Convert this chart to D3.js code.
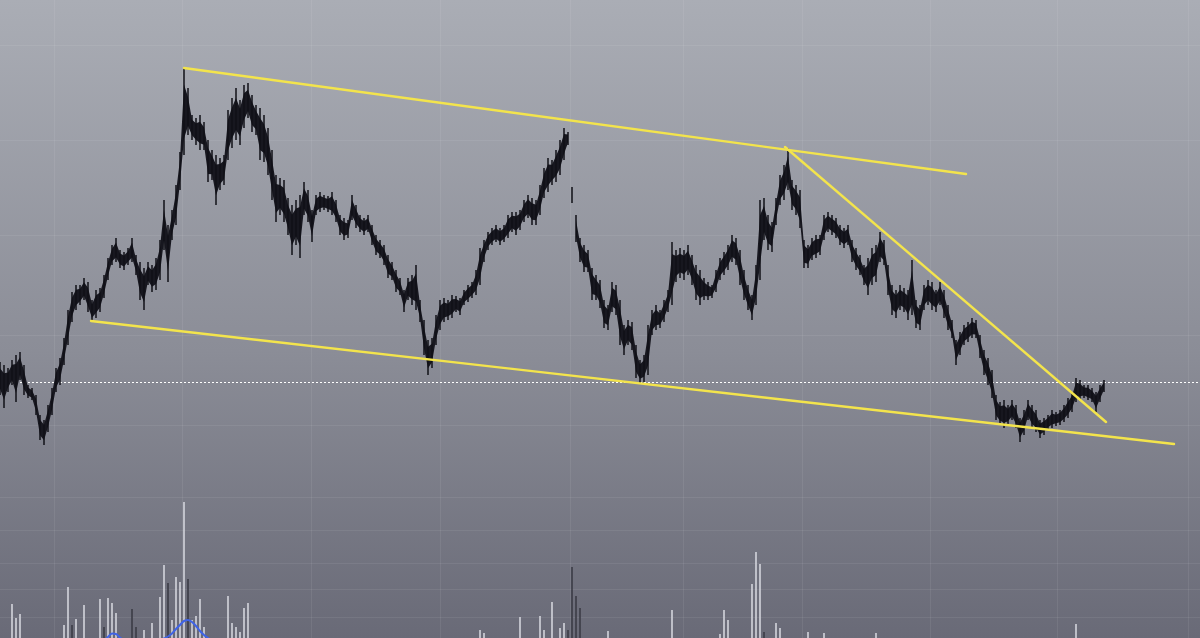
<!DOCTYPE html>
<html><head><meta charset="utf-8">
<script src="https://cdn.jsdelivr.net/npm/d3@7"></script>
<style>html,body{margin:0;padding:0;overflow:hidden;background:#8e9099}svg{display:block}</style>
</head><body><svg id="c" width="1200" height="638"></svg>
<script>
// ---- data (price units, one bar per index) ----
const high = [63.8,63.5,63.2,64.0,64.5,64.8,63.5,61.5,61.2,60.5,58.5,58.0,59.5,61.2,63.2,64.2,66.2,69.0,70.8,71.5,
71.5,72.2,71.8,70.0,71.0,71.2,72.5,74.2,75.5,76.2,75.0,74.8,75.2,76.2,74.5,73.8,73.2,73.8,73.5,74.2,
76.0,80.0,77.5,79.0,81.5,84.8,93.2,91.2,88.5,88.2,88.5,87.8,86.0,85.0,84.5,84.2,84.5,89.0,90.2,91.2,
90.0,91.5,91.7,90.5,89.5,89.2,88.5,87.2,85.0,82.5,82.2,82.0,80.2,79.5,80.0,80.5,81.8,81.0,79.0,80.5,
80.8,80.5,80.4,80.8,80.0,78.5,78.2,78.0,80.5,79.5,78.5,78.2,78.5,77.5,76.5,76.0,75.5,74.5,73.8,73.0,
72.2,71.0,72.2,72.5,73.5,70.0,68.0,66.0,66.2,68.5,70.0,70.2,70.0,70.5,70.4,70.2,71.0,71.5,71.8,73.0,
75.2,76.0,76.8,77.2,77.5,77.2,77.5,78.5,78.8,78.8,79.0,80.0,80.5,80.2,80.0,81.5,83.2,84.2,84.0,85.0,
86.0,87.2,86.8,81.3,78.5,76.2,75.5,75.0,73.2,72.5,72.0,70.0,69.5,71.8,71.5,70.0,67.5,68.0,67.8,65.5,
64.0,64.5,67.5,69.0,69.5,69.0,70.0,71.0,75.8,75.0,75.2,75.0,75.5,74.5,73.5,73.0,72.2,71.8,71.5,73.0,
74.2,74.8,75.5,76.5,76.2,75.0,73.0,71.5,70.5,73.5,80.0,80.2,78.5,77.8,80.2,82.5,83.5,85.2,82.0,81.5,
81.0,76.0,75.5,76.2,76.5,76.5,78.5,78.8,78.5,78.2,77.5,77.2,77.5,76.0,75.2,74.5,73.5,74.2,75.2,75.5,
76.8,76.0,73.5,71.5,71.0,71.5,71.2,71.0,74.0,70.0,69.5,71.5,72.0,71.8,71.0,71.8,71.0,69.5,68.0,66.0,
66.8,67.5,67.8,68.2,68.0,66.5,65.0,64.2,63.0,60.5,59.8,60.0,59.5,60.0,59.5,58.2,59.0,60.0,59.5,59.0,
58.0,58.2,58.5,59.0,58.8,59.0,59.5,60.2,60.8,62.2,62.0,61.5,61.5,61.2,60.8,61.5,62.0];
const low = [60.5,59.2,60.8,61.5,59.8,62.0,60.5,60.2,60.0,58.5,56.0,55.5,56.8,58.5,60.8,61.5,63.5,65.5,67.8,69.0,
69.5,70.0,68.8,67.8,68.2,68.8,70.2,72.0,73.5,73.8,73.2,73.0,73.5,73.8,72.5,70.0,69.0,71.5,70.8,71.0,
72.0,75.0,71.8,76.0,77.5,81.0,84.5,86.5,86.0,85.5,85.0,85.0,81.8,82.0,79.5,81.0,81.5,84.0,85.2,86.0,
85.5,87.2,88.2,86.8,86.5,84.0,83.8,82.5,80.0,77.8,78.5,77.8,76.5,74.5,75.5,74.2,78.5,77.8,75.8,78.5,
78.8,79.0,78.8,78.5,77.8,76.5,76.0,76.2,78.0,77.2,76.8,76.5,76.8,75.5,74.5,74.2,73.5,72.2,72.0,70.8,
70.5,68.8,70.0,69.5,69.0,67.8,64.5,62.5,63.2,65.5,67.0,67.8,68.0,68.2,68.8,68.5,69.5,69.8,70.2,70.5,
71.5,73.8,75.0,75.5,75.8,75.5,75.8,76.2,76.8,76.5,77.0,77.8,78.2,77.5,77.5,78.5,80.2,80.8,81.5,81.8,
82.5,84.0,85.5,79.7,75.8,73.8,72.8,72.8,70.0,70.0,69.2,67.2,67.0,68.8,68.5,65.5,64.5,65.5,65.0,62.2,
61.7,61.8,62.5,66.5,67.0,67.2,67.8,68.8,69.5,71.8,72.2,72.0,72.5,71.5,70.0,69.5,70.0,70.0,70.2,70.8,
72.0,72.5,73.0,73.8,73.5,71.5,70.0,69.0,68.0,69.5,72.0,76.0,75.0,74.8,77.5,79.5,80.0,81.0,79.0,78.5,
77.2,73.2,73.2,74.0,74.2,74.5,76.0,76.8,76.5,76.2,75.5,75.2,75.5,73.8,73.0,72.5,71.5,70.5,71.5,71.8,
73.8,73.5,70.5,68.5,68.2,69.0,68.8,68.0,68.5,67.2,67.0,69.0,69.5,69.0,68.8,69.5,68.2,67.0,66.2,63.5,
64.5,65.5,65.8,66.2,66.2,64.2,62.5,61.5,60.2,58.0,57.5,57.2,57.5,58.0,57.2,55.8,56.5,58.0,57.2,56.8,
56.2,56.5,57.0,57.2,57.4,57.5,57.8,58.2,58.8,59.8,60.0,60.2,60.0,59.8,58.8,59.8,60.8];
const sessionBreaks = [143, 144];          // bars that start a new (disconnected) run
const lastPrice = 61.8;

// trend lines: [barIndex, price]
const trendFrom = [[46, 93.2], [22.75, 67.9], [196.25, 85.3]];
const trendTo   = [[241.5, 82.6], [293.5, 55.6], [276.5, 57.8]];

// volume (sparse, by bar index)
const volIndex = [3,4,5,16,17,18,19,21,25,26,27,28,29,33,34,36,38,40,41,42,43,44,45,46,47,48,49,50,51,57,58,59,60,61,62,
120,121,130,135,136,138,140,141,142,143,144,145,152,168,180,181,182,188,189,190,191,194,195,202,206,219,269];
const volValue = [510,370,410,300,680,300,360,500,560,280,570,520,420,460,280,250,320,580,900,720,350,780,730,1530,760,350,390,560,280,590,320,280,230,470,520,
250,220,380,390,250,530,270,320,250,880,590,470,240,450,210,450,350,710,1030,910,230,320,270,230,220,220,310];
const volDown  = [0,0,0,0,0,1,0,0,0,1,0,0,0,1,1,0,0,0,0,1,0,0,0,0,1,0,0,0,0,0,0,0,0,0,0,
0,0,0,0,0,0,0,0,1,1,1,1,0,0,0,0,0,0,0,0,1,0,0,0,0,0,0];
// volume moving average (blue)
const maIndex = [26,27,28,29,30,31,33,36,39,41,42,43,44,45,46,47,48,49,50,51,52,53];
const maValue = [140,180,215,210,175,150,140,135,140,165,185,215,260,300,340,350,330,290,240,200,170,140];

// grid positions
const gridIndex = [13.5, 45.5, 77.75, 110, 142.5, 170.75, 200.5, 232.5, 264.25, 297];
const gridPrice = [95.5, 86, 76.5, 66.5, 57.5];
const gridVolume = [1580, 1250, 920, 660, 380];

// ---- drawing ----
const W = 1200, H = 638;
const svg = d3.select('#c');
const x = d3.scaleLinear().domain([0, 276]).range([0, 1104]);
const y = d3.scaleLinear().domain([36.2, 100]).range([H, 0]);
const yv = d3.scaleLinear().domain([0, 2000]).range([655, 455]);

const defs = svg.append('defs');
const g = defs.append('linearGradient').attr('id', 'bg').attr('x1', 0).attr('y1', 0).attr('x2', 0).attr('y2', 1);
g.append('stop').attr('offset', '0%').attr('stop-color', '#aaadb5');
g.append('stop').attr('offset', '55%').attr('stop-color', '#8b8d97');
g.append('stop').attr('offset', '100%').attr('stop-color', '#696a77');
svg.append('rect').attr('width', W).attr('height', H).attr('fill', 'url(#bg)');

// grid
const grid = svg.append('g').attr('stroke', '#ffffff').attr('stroke-opacity', 0.07).attr('stroke-width', 1);
grid.selectAll('line.v').data(gridIndex).join('line').attr('class', 'v')
  .attr('x1', d => Math.round(x(d)) + 0.5).attr('x2', d => Math.round(x(d)) + 0.5).attr('y1', 0).attr('y2', H);
grid.selectAll('line.hp').data(gridPrice).join('line').attr('class', 'hp')
  .attr('x1', 0).attr('x2', W).attr('y1', d => Math.round(y(d)) + 0.5).attr('y2', d => Math.round(y(d)) + 0.5);
grid.selectAll('line.hv').data(gridVolume).join('line').attr('class', 'hv')
  .attr('x1', 0).attr('x2', W).attr('y1', d => Math.round(yv(d)) + 0.5).attr('y2', d => Math.round(yv(d)) + 0.5);

// volume bars
const vols = volIndex.map((d, i) => ({ i: d, v: volValue[i], down: volDown[i] }));
svg.append('g').selectAll('line').data(vols).join('line')
  .attr('x1', d => x(d.i)).attr('x2', d => x(d.i))
  .attr('y1', yv(0)).attr('y2', d => yv(d.v))
  .attr('stroke', d => d.down ? '#3b3c46' : '#d4d5dc').attr('stroke-width', 1.6);

// volume MA
const ma = maIndex.map((d, i) => [d, maValue[i]]);
svg.append('path').datum(ma)
  .attr('d', d3.line().x(d => x(d[0])).y(d => yv(d[1])).curve(d3.curveMonotoneX))
  .attr('fill', 'none').attr('stroke', '#3f63e6').attr('stroke-width', 2);

// last price dotted line
svg.append('line').attr('x1', 0).attr('x2', W)
  .attr('y1', Math.round(y(lastPrice)) + 0.5).attr('y2', Math.round(y(lastPrice)) + 0.5)
  .attr('stroke', '#ffffff').attr('stroke-width', 1).attr('stroke-dasharray', '2,2');

// price bars: dense core band + full high-low bars
const bars = high.map((h, i) => ({ i, h, l: low[i] }));
const runs = [];
let cur = [];
bars.forEach(b => { if (sessionBreaks.includes(b.i) && cur.length) { runs.push(cur); cur = []; } cur.push(b); });
runs.push(cur);
const core = 0.62;
const area = d3.area().x(d => x(d.i))
  .y0(d => y((d.h + d.l) / 2 - (d.h - d.l) / 2 * core))
  .y1(d => y((d.h + d.l) / 2 + (d.h - d.l) / 2 * core));
svg.append('g').selectAll('path').data(runs.filter(r => r.length > 1)).join('path')
  .attr('d', area).attr('fill', '#17171f');
svg.append('g').selectAll('line').data(bars).join('line')
  .attr('x1', d => x(d.i)).attr('x2', d => x(d.i))
  .attr('y1', d => y(d.h)).attr('y2', d => y(d.l))
  .attr('stroke', '#111117').attr('stroke-width', 1.5);

// trend lines
svg.append('g').selectAll('line').data(trendFrom.map((f, i) => [f, trendTo[i]])).join('line')
  .attr('x1', d => x(d[0][0])).attr('y1', d => y(d[0][1]))
  .attr('x2', d => x(d[1][0])).attr('y2', d => y(d[1][1]))
  .attr('stroke', '#f3e44c').attr('stroke-width', 2.4).attr('stroke-linecap', 'round');
</script></body></html>
